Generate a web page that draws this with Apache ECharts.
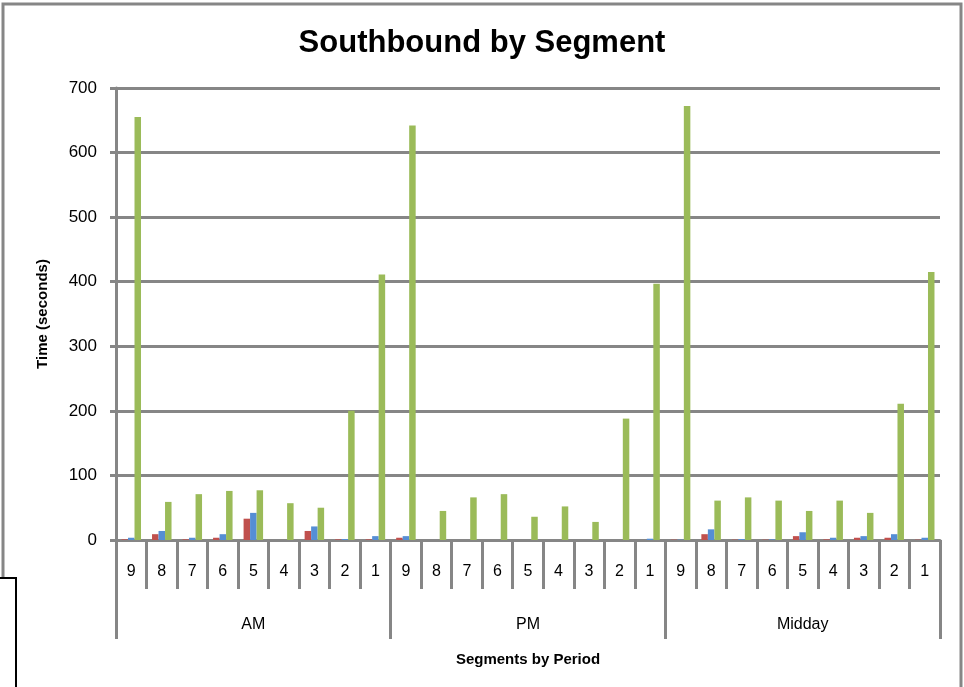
<!DOCTYPE html>
<html>
<head>
<meta charset="utf-8">
<script src="https://cdn.jsdelivr.net/npm/echarts@6/dist/echarts.min.js"></script>
<style>
  html, body { margin: 0; padding: 0; background: #ffffff; }
  #main { width: 964px; height: 687px; }
</style>
</head>
<body>
<div id="main"></div>
<script>
// segments within each period, and the periods themselves
var segments = ['9', '8', '7', '6', '5', '4', '3', '2', '1'];
var periods = ['AM', 'PM', 'Midday'];

// values per period, segment 9 -> 1
var redAM = [1, 9, 1, 3.5, 33, 0, 14, 1, 1];
var redPM = [3.5, 0, 0, 0, 0, 0, 0, 0, 0];
var redMid = [0.5, 9, 0.5, 0.5, 6, 1, 3.5, 3.5, 0.5];

var blueAM = [3.5, 14, 3.5, 9, 42, 0, 21, 1.5, 6];
var bluePM = [6, 0, 0, 0, 0, 0, 0, 0, 2];
var blueMid = [0.5, 16.5, 1.5, 1, 12, 3.5, 6, 9, 3.5];

var greenAM = [655, 59, 71, 76, 77, 57, 50, 200, 411];
var greenPM = [642, 45, 66, 71, 36, 52, 28, 188, 397];
var greenMid = [672, 61, 66, 61, 45, 61, 42, 211, 415];

var yTicks = [0, 100, 200, 300, 400, 500, 600, 700];

function initChart() {
    var myChart = echarts.init(document.getElementById('main'));

    var cats = [];
    for (var p = 0; p < periods.length; p++) {
        for (var s = 0; s < segments.length; s++) {
            cats.push(segments[s]);
        }
    }
    var red = redAM.concat(redPM, redMid);
    var blue = blueAM.concat(bluePM, blueMid);
    var green = greenAM.concat(greenPM, greenMid);

    var font = 'Liberation Sans';
    var gridGray = '#868686';

    var option = {
        backgroundColor: '#ffffff',
        animation: false,
        title: {
            text: 'Southbound by Segment',
            left: 'center',
            top: 23,
            textStyle: {
                color: '#000000',
                fontFamily: font,
                fontWeight: 'bold',
                fontSize: 31
            }
        },
        graphic: [
            {
                type: 'polyline',
                shape: { points: [[3, 577], [3, 4], [961, 4], [961, 700]] },
                style: { stroke: gridGray, lineWidth: 3, fill: null }
            },
            {
                type: 'polyline',
                shape: { points: [[-2, 578], [16, 578], [16, 700]] },
                style: { stroke: '#000000', lineWidth: 2, fill: null }
            }
        ],
        grid: {
            left: 116,
            right: 24,
            top: 88,
            bottom: 147
        },
        xAxis: [
            {
                type: 'category',
                data: cats,
                position: 'bottom',
                axisLine: { show: true, lineStyle: { color: gridGray, width: 3 } },
                axisTick: { show: true, length: 49, lineStyle: { color: gridGray, width: 3 } },
                axisLabel: {
                    margin: 24,
                    color: '#000000',
                    fontFamily: font,
                    fontSize: 16,
                    interval: 0
                },
                splitLine: { show: false }
            },
            {
                type: 'category',
                data: periods,
                position: 'bottom',
                name: 'Segments by Period',
                nameLocation: 'middle',
                nameGap: 112,
                nameTextStyle: {
                    color: '#000000',
                    fontFamily: font,
                    fontWeight: 'bold',
                    fontSize: 15
                },
                axisLine: { show: false },
                axisTick: { show: true, length: 99, lineStyle: { color: gridGray, width: 3 } },
                axisLabel: {
                    margin: 77,
                    color: '#000000',
                    fontFamily: font,
                    fontSize: 16
                },
                splitLine: { show: false }
            }
        ],
        yAxis: {
            type: 'value',
            min: yTicks[0],
            max: yTicks[yTicks.length - 1],
            interval: 100,
            name: 'Time (seconds)',
            nameLocation: 'middle',
            nameGap: 66,
            nameTextStyle: {
                color: '#000000',
                fontFamily: font,
                fontWeight: 'bold',
                fontSize: 15
            },
            axisLine: { show: true, lineStyle: { color: gridGray, width: 3 } },
            axisTick: { show: true, length: 6, lineStyle: { color: gridGray, width: 3 } },
            axisLabel: {
                margin: 19,
                color: '#000000',
                fontFamily: font,
                fontSize: 17
            },
            splitLine: { show: true, lineStyle: { color: gridGray, width: 3 } }
        },
        series: [
            {
                name: 'Series 1',
                type: 'bar',
                xAxisIndex: 0,
                barWidth: 6.5,
                barGap: '0%',
                data: red,
                itemStyle: { color: '#C0504D' }
            },
            {
                name: 'Series 2',
                type: 'bar',
                xAxisIndex: 0,
                barWidth: 6.5,
                barGap: '0%',
                data: blue,
                itemStyle: { color: '#558ED5' }
            },
            {
                name: 'Series 3',
                type: 'bar',
                xAxisIndex: 0,
                barWidth: 6.5,
                barGap: '0%',
                data: green,
                itemStyle: { color: '#9BBB59' }
            }
        ]
    };

    myChart.setOption(option);
}

initChart();
</script>
</body>
</html>
